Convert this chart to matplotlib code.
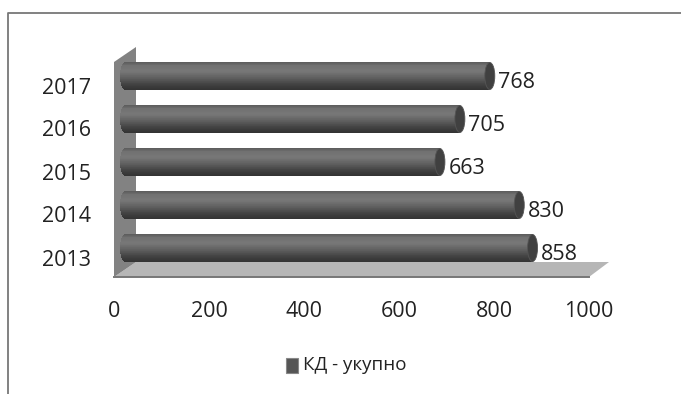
import numpy as np
import matplotlib
matplotlib.use("Agg")
import matplotlib.pyplot as plt
from matplotlib.patches import Ellipse, Polygon

years = ["2013", "2014", "2015", "2016", "2017"]
values = [858, 830, 663, 705, 768]
x_ticks = [0, 200, 400, 600, 800, 1000]
series_name = "КД - укупно"

W, H = 681, 394
fig = plt.figure(figsize=(W / 100, H / 100), dpi=100, facecolor="white")

# Axes frame in pixels: left, right, bottom, top
L, R, B, T = 114, 589, 277, 62
ax = fig.add_axes([L / W, 1 - B / H, (R - L) / W, (B - T) / H])
ROW = 43.0
XS = (R - L) / 1000
ax.set_xlim(0, 1000)
ax.set_ylim(-(B - 248) / ROW, (248 - T) / ROW)
for s in ax.spines.values():
    s.set_visible(False)

font = ["Open Sans", "DejaVu Sans"]
ax.set_xticks(x_ticks)
ax.set_xticklabels([str(t) for t in x_ticks], family=font, fontsize=15.5, color="#222222")
ax.set_yticks(np.arange(len(years)) - 9.5 / ROW)
ax.set_yticklabels(years, family=font, fontsize=15.5, color="#222222")
ax.tick_params(axis="both", length=0)
ax.tick_params(axis="x", pad=17)
ax.tick_params(axis="y", pad=16.5)

# Side wall and floor of the 3-D box
dx = 22 / XS
dy = 15 / ROW
y0, y1 = ax.get_ylim()
ax.add_patch(Polygon([(0, y0), (dx, y0 + dy), (1000 + dx - 2 / XS, y0 + dy), (1000, y0)],
                     closed=True, fc="#b6b6b6", ec="none", clip_on=False, zorder=1))
ax.plot([0, 1000], [y0, y0], color="#777777", lw=1.4, clip_on=False, zorder=1.5)
ax.add_patch(Polygon([(0, y0), (dx, y0 + dy), (dx, y1 + dy), (0, y1)],
                     closed=True, fc="#828282", ec="none", clip_on=False, zorder=2))

# Cylinders built from thin horizontal strips with a vertical shading ramp
start = 11 / XS
half_h = 13.5 / ROW
cap_a = 5 / XS
stops_t = [0.0, 0.1, 0.32, 0.6, 0.85, 1.0]
stops_v = [0.36, 0.44, 0.47, 0.36, 0.24, 0.20]
N = 40
edges = np.linspace(-1, 1, N + 1)
for i, v in enumerate(values):
    for k in range(N):
        mid = (edges[k] + edges[k + 1]) / 2
        shade = np.interp((1 - mid) / 2, stops_t, stops_v)
        bulge = cap_a * np.sqrt(max(0, 1 - mid ** 2))
        ax.barh(i + mid * half_h, v + bulge, left=start - bulge,
                height=2 * half_h / N * 1.15, color=str(shade), lw=0, zorder=3)
    ax.add_patch(Ellipse((start + v, i), 2 * cap_a, 2 * half_h, fc="#404040",
                         ec="#555555", lw=0.6, zorder=4))
    ax.annotate(str(v), (start + v, i), xytext=(6, -4.5), textcoords="offset points",
                va="center", ha="left", family=font, fontsize=15.5, color="#222222", zorder=5)

# Outer chart frame, open on the right and bottom
fig.add_artist(plt.Line2D([7.5 / W, 7.5 / W, 1], [0, 1 - 13 / H, 1 - 13 / H],
                          color="#777777", lw=1.3))

# Legend
fig.add_artist(plt.Rectangle((286 / W, 1 - 373 / H), 12 / W, 15 / H,
                             fc="#555555", ec="#888888", lw=0.8))
fig.text(303 / W, 1 - 365 / H, series_name, family=["Open Sans", "DejaVu Sans"],
         fontsize=13.5, color="#222222", va="center", ha="left")

fig.savefig("out.png", dpi=100, facecolor="white")
